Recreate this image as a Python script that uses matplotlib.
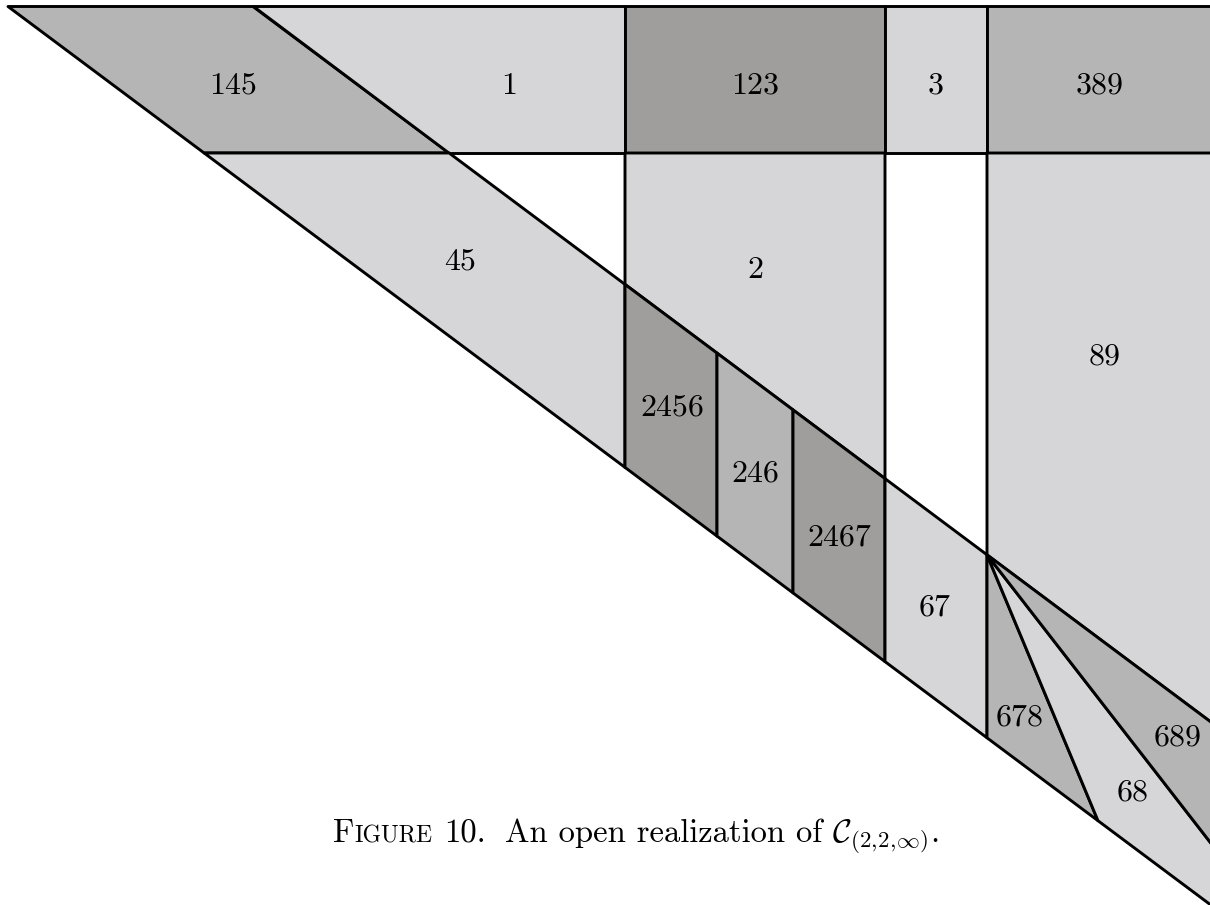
import matplotlib
matplotlib.use('Agg')
import matplotlib.pyplot as plt
from matplotlib.patches import Polygon

plt.rcParams['mathtext.fontset'] = 'cm'
plt.rcParams['font.family'] = ['cmr10', 'DejaVu Serif']
plt.rcParams['axes.formatter.use_mathtext'] = True

# Geometry of the arrangement (pixel space of the original figure, y pointing down).
TOP = 6.5
MID = 153.0
RIGHT = 1245.0           # drawn past the visible edge so no border line shows
SLOPE = 0.747
OUTER_X0 = 8.0           # outer diagonal meets the top line here
INNER_X0 = 253.0         # inner diagonal meets the top line here
COLS = [625.0, 717.0, 793.0, 885.0, 987.0]
FAN_FOOT_X = 1098.0      # fan line landing on the outer diagonal
FAN_MID_END = (1210.0, 842.0)

LIGHT = '#d6d5d7'
MEDIUM = '#b6b5b6'
DARK = '#9f9e9c'


def y_out(x):
    return TOP + SLOPE * (x - OUTER_X0)


def y_in(x):
    return TOP + SLOPE * (x - INNER_X0)


def x_out(y):
    return OUTER_X0 + (y - TOP) / SLOPE


def x_in(y):
    return INNER_X0 + (y - TOP) / SLOPE


c0, c1, c2, c3, c4 = COLS
apex = (c4, y_in(c4))
dx = FAN_MID_END[0] - apex[0]
dy = FAN_MID_END[1] - apex[1]
fan_mid = (RIGHT, apex[1] + dy / dx * (RIGHT - apex[0]))

regions = {
    '145': ([(x_out(TOP), TOP), (x_in(TOP), TOP), (x_in(MID), MID), (x_out(MID), MID)], MEDIUM),
    '1': ([(x_in(TOP), TOP), (c0, TOP), (c0, MID), (x_in(MID), MID)], LIGHT),
    '123': ([(c0, TOP), (c3, TOP), (c3, MID), (c0, MID)], DARK),
    '3': ([(c3, TOP), (c4, TOP), (c4, MID), (c3, MID)], LIGHT),
    '389': ([(c4, TOP), (RIGHT, TOP), (RIGHT, MID), (c4, MID)], MEDIUM),
    '45': ([(x_out(MID), MID), (x_in(MID), MID), (c0, y_in(c0)), (c0, y_out(c0))], LIGHT),
    '2': ([(c0, MID), (c3, MID), (c3, y_in(c3)), (c0, y_in(c0))], LIGHT),
    '2456': ([(c0, y_in(c0)), (c1, y_in(c1)), (c1, y_out(c1)), (c0, y_out(c0))], DARK),
    '246': ([(c1, y_in(c1)), (c2, y_in(c2)), (c2, y_out(c2)), (c1, y_out(c1))], MEDIUM),
    '2467': ([(c2, y_in(c2)), (c3, y_in(c3)), (c3, y_out(c3)), (c2, y_out(c2))], DARK),
    '67': ([(c3, y_in(c3)), (c4, y_in(c4)), (c4, y_out(c4)), (c3, y_out(c3))], LIGHT),
    '89': ([(c4, MID), (RIGHT, MID), (RIGHT, y_in(RIGHT)), apex], LIGHT),
    '678': ([apex, (c4, y_out(c4)), (FAN_FOOT_X, y_out(FAN_FOOT_X))], MEDIUM),
    '68': ([apex, (FAN_FOOT_X, y_out(FAN_FOOT_X)), (RIGHT, y_out(RIGHT)), fan_mid], LIGHT),
    '689': ([apex, fan_mid, (RIGHT, y_in(RIGHT))], MEDIUM),
}

label_pos = {
    '145': (233, 86), '1': (509, 86), '123': (755, 86), '3': (936, 86), '389': (1100, 86),
    '45': (460, 262), '2': (755, 270), '89': (1105, 357),
    '2456': (672, 408), '246': (755, 474), '2467': (839, 538), '67': (935, 608),
    '678': (1020, 718), '68': (1133, 793), '689': (1178, 738),
}

fig = plt.figure(figsize=(12.1, 9.05), dpi=100)
ax = fig.add_axes([0, 0, 1, 1])
ax.set_xlim(0, 1210)
ax.set_ylim(905, 0)
ax.axis('off')

for name, (pts, color) in regions.items():
    ax.add_patch(Polygon(pts, closed=True, facecolor=color, edgecolor='black',
                         linewidth=2.1, joinstyle='round'))
    lx, ly = label_pos[name]
    ax.text(lx, ly, name, ha='center', va='center', fontsize=23)

# Caption, with "Figure" set in small caps by hand
fig.canvas.draw()
renderer = fig.canvas.get_renderer()
inv = ax.transData.inverted()
base_y = 842
pieces = [
    ('F', 23.5, 0),
    ('IGURE', 17, 0),
    ('10.', 23.5, 12),
    ('An open realization of', 23.5, 19),
    (r'$\mathcal{C}_{(2,\!2,\!\infty)}$.', 23.5, 10),
]
x = 333
for txt, size, gap in pieces:
    t = ax.text(x + gap, base_y, txt, fontsize=size, va='baseline', ha='left')
    x = inv.transform(t.get_window_extent(renderer).p1)[0]

fig.savefig('out.png', dpi=100)
